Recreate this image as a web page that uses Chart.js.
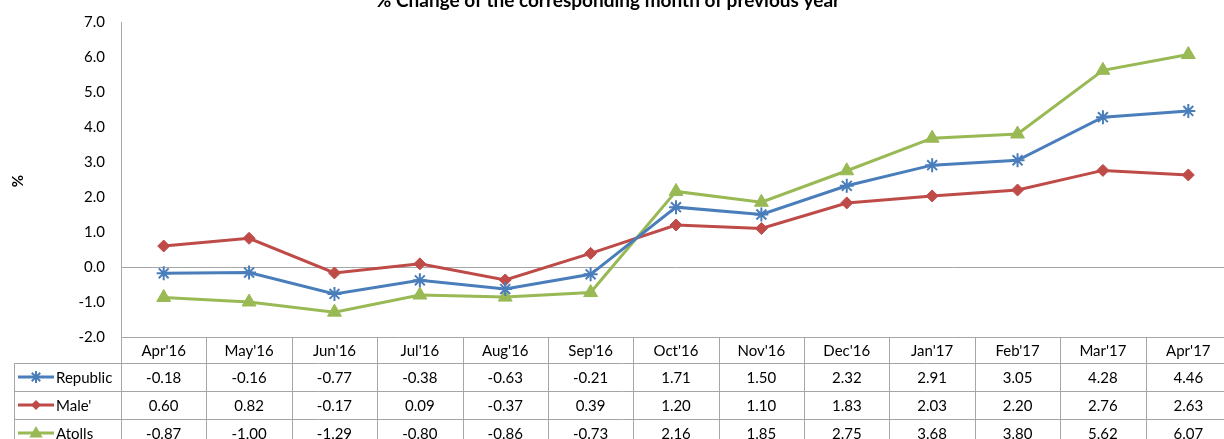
<!DOCTYPE html>
<html>
<head>
<meta charset="utf-8">
<script src="https://cdn.jsdelivr.net/npm/chart.js@4/dist/chart.umd.min.js"></script>
<style>
  html, body { margin: 0; padding: 0; overflow: hidden; background: #fff; }
  #wrap { width: 1240px; height: 442px; position: absolute; left: 0; top: -3px; }
</style>
</head>
<body>
<div id="wrap"><canvas id="c"></canvas></div>
<script>
const categories = ["Apr'16","May'16","Jun'16","Jul'16","Aug'16","Sep'16","Oct'16","Nov'16","Dec'16","Jan'17","Feb'17","Mar'17","Apr'17"];
const republic = [-0.18,-0.16,-0.77,-0.38,-0.63,-0.21,1.71,1.50,2.32,2.91,3.05,4.28,4.46];
const male = [0.60,0.82,-0.17,0.09,-0.37,0.39,1.20,1.10,1.83,2.03,2.20,2.76,2.63];
const atolls = [-0.87,-1.00,-1.29,-0.80,-0.86,-0.73,2.16,1.85,2.75,3.68,3.80,5.62,6.07];
const seriesNames = ["Republic","Male'","Atolls"];
const yTicks = [-2,-1,0,1,2,3,4,5,6,7];
const titleText = "% Change of the corresponding month of previous year";
const yTitle = "%";

const OFF = 3;
const FONT = "Lato, 'Open Sans', sans-serif";
const colors = ["#4a7ebb", "#be4b48", "#98b954"];
const styles = ["star", "rectRot", "triangle"];
const radii = [7, 6, 8];
const GRID = "#a6a6a6";

function drawMarker(ctx, style, x, y, r, color) {
  ctx.save();
  ctx.fillStyle = color; ctx.strokeStyle = color; ctx.lineWidth = 2;
  ctx.beginPath();
  if (style === 'star') {
    for (let i = 0; i < 4; i++) {
      const a = i * Math.PI / 4;
      ctx.moveTo(x - r * Math.cos(a), y - r * Math.sin(a));
      ctx.lineTo(x + r * Math.cos(a), y + r * Math.sin(a));
    }
    ctx.stroke();
  } else if (style === 'rectRot') {
    ctx.moveTo(x, y - r); ctx.lineTo(x + r, y); ctx.lineTo(x, y + r); ctx.lineTo(x - r, y); ctx.closePath(); ctx.fill();
  } else {
    ctx.moveTo(x, y - r); ctx.lineTo(x + r * 0.95, y + r * 0.65); ctx.lineTo(x - r * 0.95, y + r * 0.65); ctx.closePath(); ctx.fill();
  }
  ctx.restore();
}

const seriesData = [republic, male, atolls];

const tablePlugin = {
  id: 'tablePlugin',
  afterDraw(chart) {
    const ctx = chart.ctx;
    const xs = chart.scales.x;
    const area = chart.chartArea;
    const n = categories.length;
    const colW = (area.right - area.left) / n;
    const top = area.bottom;
    const headH = 26, rowH = 28;
    const legendLeft = 14;
    const H = chart.height;
    ctx.save();
    ctx.strokeStyle = GRID; ctx.lineWidth = 1;
    ctx.beginPath();
    ctx.moveTo(area.left, top + 0.5); ctx.lineTo(area.right, top + 0.5);
    for (let r = 0; r < 3; r++) {
      const y = Math.round(top + headH + r * rowH) + 0.5;
      ctx.moveTo(legendLeft, y); ctx.lineTo(area.right, y);
    }
    for (let i = 0; i <= n; i++) {
      const x = Math.round(area.left + i * colW) + 0.5;
      ctx.moveTo(x, top); ctx.lineTo(x, H);
    }
    ctx.moveTo(legendLeft + 0.5, top + headH); ctx.lineTo(legendLeft + 0.5, H);
    ctx.stroke();

    ctx.fillStyle = "#000";
    ctx.font = "15px " + FONT;
    ctx.textAlign = "center"; ctx.textBaseline = "middle";
    categories.forEach((c, i) => {
      const x = xs.getPixelForValue(i);
      ctx.fillText(c, x, top + headH / 2 + 1);
    });
    seriesData.forEach((arr, r) => {
      const cy = top + headH + r * rowH + rowH / 2 + 1;
      ctx.textAlign = "center";
      arr.forEach((v, i) => {
        ctx.fillText(v.toFixed(2), xs.getPixelForValue(i), cy);
      });
      ctx.save();
      ctx.strokeStyle = colors[r]; ctx.lineWidth = 3;
      ctx.beginPath(); ctx.moveTo(18, cy - 1); ctx.lineTo(54, cy - 1); ctx.stroke();
      ctx.restore();
      drawMarker(ctx, styles[r], 36, cy - 1, radii[r] - 1, colors[r]);
      ctx.textAlign = "left";
      ctx.fillText(seriesNames[r], 56, cy);
    });

    ctx.font = "bold 19px " + FONT;
    ctx.textAlign = "center"; ctx.textBaseline = "alphabetic";
    ctx.fillText(titleText, 608, 7 + OFF);
    ctx.save();
    ctx.translate(18, 181 + OFF);
    ctx.rotate(-Math.PI / 2);
    ctx.font = "bold 15px " + FONT;
    ctx.textAlign = "center"; ctx.textBaseline = "middle";
    ctx.fillText(yTitle, 0, 0);
    ctx.restore();
    ctx.restore();
  }
};

const datasets = seriesData.map((arr, i) => ({
  label: seriesNames[i],
  data: arr,
  borderColor: colors[i],
  backgroundColor: colors[i],
  borderWidth: 3,
  pointStyle: styles[i],
  pointRadius: radii[i],
  pointBorderWidth: i === 0 ? 2 : 1,
  pointBorderColor: colors[i],
  pointBackgroundColor: colors[i],
  tension: 0
}));

new Chart(document.getElementById('c'), {
  type: 'line',
  data: { labels: categories, datasets },
  options: {
    responsive: true,
    maintainAspectRatio: false,
    animation: false,
    layout: { padding: { top: 17, bottom: 102, left: 0, right: 1 } },
    plugins: { legend: { display: false }, title: { display: false }, tooltip: { enabled: false } },
    scales: {
      x: { display: false, offset: true, grid: { offset: true } },
      y: {
        min: -2, max: 7,
        afterBuildTicks(scale) { scale.ticks = yTicks.map(v => ({ value: v })); },
        afterFit(scale) { scale.width = 121; },
        border: { display: true, color: GRID, width: 1 },
        grid: {
          drawTicks: false,
          color: ctx => (ctx.tick && ctx.tick.value === 0) ? GRID : 'rgba(0,0,0,0)',
          lineWidth: 1
        },
        ticks: {
          padding: 16,
          color: "#000",
          font: { family: FONT, size: 15 },
          callback: v => Number(v).toFixed(1)
        }
      }
    }
  },
  plugins: [tablePlugin]
});
</script>
</body>
</html>
